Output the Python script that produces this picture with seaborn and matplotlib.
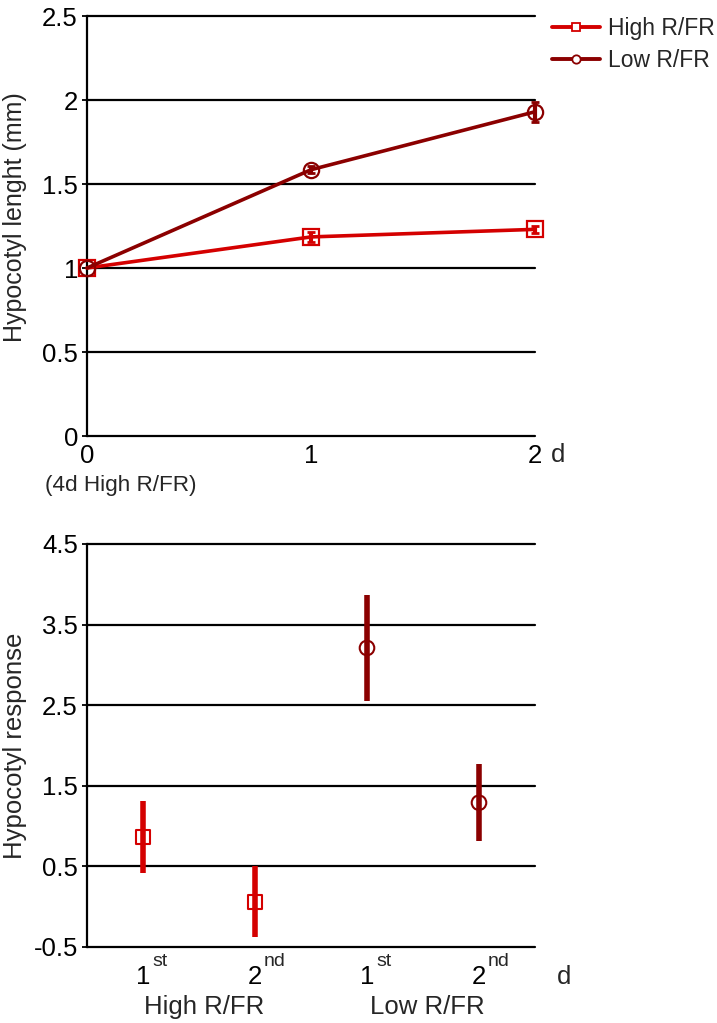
import matplotlib
matplotlib.use("Agg")
import matplotlib.pyplot as plt
import seaborn as sns
import pandas as pd
from matplotlib.lines import Line2D

# ---- data ----
days = [0, 1, 2]
high_len = [1.0, 1.185, 1.23]
high_len_err = [0.0, 0.03, 0.02]
low_len = [1.0, 1.585, 1.93]
low_len_err = [0.0, 0.02, 0.06]

resp_digits = ["1", "2", "1", "2"]
resp_suffix = ["st", "nd", "st", "nd"]
resp_groups = ["High R/FR", "High R/FR", "Low R/FR", "Low R/FR"]
resp_values = [0.865, 0.06, 3.21, 1.29]
resp_low = [0.42, -0.38, 2.55, 0.81]
resp_high = [1.31, 0.50, 3.87, 1.77]

top_yticks = [0, 0.5, 1, 1.5, 2, 2.5]
top_yticklabels = ["0", "0.5", "1", "1.5", "2", "2.5"]
bot_yticks = [-0.5, 0.5, 1.5, 2.5, 3.5, 4.5]
bot_yticklabels = ["-0.5", "0.5", "1.5", "2.5", "3.5", "4.5"]

RED = "#d40000"
DARK = "#8b0000"

sns.set_theme(style="white")
plt.rcParams["font.family"] = ["Liberation Sans", "DejaVu Sans"]

fig = plt.figure(figsize=(7.17, 10.23), dpi=100)
W, H = 717, 1023
ax1 = fig.add_axes([87 / W, 1 - 436 / H, (535 - 87) / W, (436 - 16) / H])
ax2 = fig.add_axes([87 / W, 1 - 947 / H, (535 - 87) / W, (947 - 544) / H])

TICK_FS = 18.5

def style_axis(ax):
    for s in ["top", "right", "bottom"]:
        ax.spines[s].set_visible(False)
    ax.spines["left"].set_color("black")
    ax.spines["left"].set_linewidth(1.6)
    ax.tick_params(axis="y", labelsize=TICK_FS, length=3.5, width=1.3,
                   pad=3, colors="black", direction="out", left=True)
    ax.tick_params(axis="x", labelsize=TICK_FS, length=0, colors="black")

# ---- top panel ----
df_top = pd.DataFrame({
    "day": days * 2,
    "len": high_len + low_len,
    "err": high_len_err + low_len_err,
    "cond": ["High R/FR"] * 3 + ["Low R/FR"] * 3,
})
for t in top_yticks:
    ax1.axhline(t, color="black", lw=1.6, zorder=1, clip_on=False)

sns.lineplot(data=df_top, x="day", y="len", hue="cond", style="cond",
             palette={"High R/FR": RED, "Low R/FR": DARK},
             markers={"High R/FR": "s", "Low R/FR": "o"}, dashes=False,
             markersize=11, markerfacecolor="none", markeredgewidth=1.6,
             linewidth=2.6, ax=ax1, legend=False, zorder=4)
for ln in ax1.lines:
    ln.set_markeredgecolor(ln.get_color())
    ln.set_clip_on(False)

for cond, col in [("High R/FR", RED), ("Low R/FR", DARK)]:
    sub = df_top[(df_top["cond"] == cond) & (df_top["err"] > 0)]
    ax1.errorbar(sub["day"], sub["len"], yerr=sub["err"], fmt="none",
                 color=col, ecolor=col, elinewidth=3, capsize=3, capthick=2,
                 zorder=5, clip_on=False)

ax1.set_xlim(0, 2)
ax1.set_ylim(0, 2.5)
ax1.set_yticks(top_yticks)
ax1.set_yticklabels(top_yticklabels)
ax1.set_xticks(days)
ax1.set_xticklabels(["0", "1", "2"])
ax1.set_xlabel("")
ax1.set_ylabel("Hypocotyl lenght (mm)", fontsize=18)
ax1.yaxis.set_label_coords(-0.135, 0.52)
style_axis(ax1)
ax1.tick_params(axis="x", pad=6)
ax1.text(558 / W, 1 - 455 / H, "d", fontsize=TICK_FS, ha="center", va="center",
         transform=fig.transFigure)
ax1.text(45 / W, 1 - 485 / H, "(4d High R/FR)", fontsize=16.2, ha="left",
         va="center", transform=fig.transFigure)

handles = [
    Line2D([], [], color=RED, lw=2.8, marker="s", markersize=6,
           markerfacecolor="white", markeredgecolor=RED, markeredgewidth=1.3),
    Line2D([], [], color=DARK, lw=2.8, marker="o", markersize=6,
           markerfacecolor="white", markeredgecolor=DARK, markeredgewidth=1.3),
]
fig.legend(handles, ["High R/FR", "Low R/FR"], loc="upper left",
           bbox_to_anchor=(552 / W, 1 - 17 / H), frameon=False, fontsize=16.5,
           handlelength=2.1, handletextpad=0.35, labelspacing=0.4,
           borderpad=0, borderaxespad=0)

# ---- bottom panel ----
df_bot = pd.DataFrame({
    "pos": [0, 1, 2, 3],
    "val": resp_values,
    "lo": resp_low,
    "hi": resp_high,
    "cond": resp_groups,
})
for t in bot_yticks:
    ax2.axhline(t, color="black", lw=1.6, zorder=1, clip_on=False)
pal = {"High R/FR": RED, "Low R/FR": DARK}
for _, r in df_bot.iterrows():
    ax2.vlines(r["pos"], r["lo"], r["hi"], color=pal[r["cond"]], lw=4, zorder=3)
sns.scatterplot(data=df_bot, x="pos", y="val", hue="cond", style="cond",
                palette=pal, markers={"High R/FR": "s", "Low R/FR": "o"},
                s=110, linewidth=1.5, ax=ax2, legend=False, zorder=4)
coll = ax2.collections[-1]
coll.set_facecolor("none")
coll.set_edgecolor([pal[g] for g in resp_groups])

ax2.set_xlim(-0.5, 3.5)
ax2.set_ylim(-0.5, 4.5)
ax2.set_yticks(bot_yticks)
ax2.set_yticklabels(bot_yticklabels)
ax2.set_xticks(df_bot["pos"])
ax2.set_xticklabels(resp_digits)
ax2.set_xlabel("")
ax2.set_ylabel("Hypocotyl response", fontsize=18.5)
ax2.yaxis.set_label_coords(-0.135, 0.5)
style_axis(ax2)
ax2.tick_params(axis="x", pad=13)
for p, sfx in zip(df_bot["pos"], resp_suffix):
    ax2.annotate(sfx, xy=(p, 0), xycoords=("data", "axes fraction"),
                 xytext=(6.5, -13.5), textcoords="offset points",
                 ha="left", va="baseline", fontsize=14)
ax2.text(564 / W, 1 - 977 / H, "d", fontsize=TICK_FS, ha="center", va="center",
         transform=fig.transFigure)
ax2.text(0.55, -1.25, "High R/FR", fontsize=18.5, ha="center", va="center")
ax2.text(2.54, -1.25, "Low R/FR", fontsize=18.5, ha="center", va="center")

fig.savefig("out.png", dpi=100)
